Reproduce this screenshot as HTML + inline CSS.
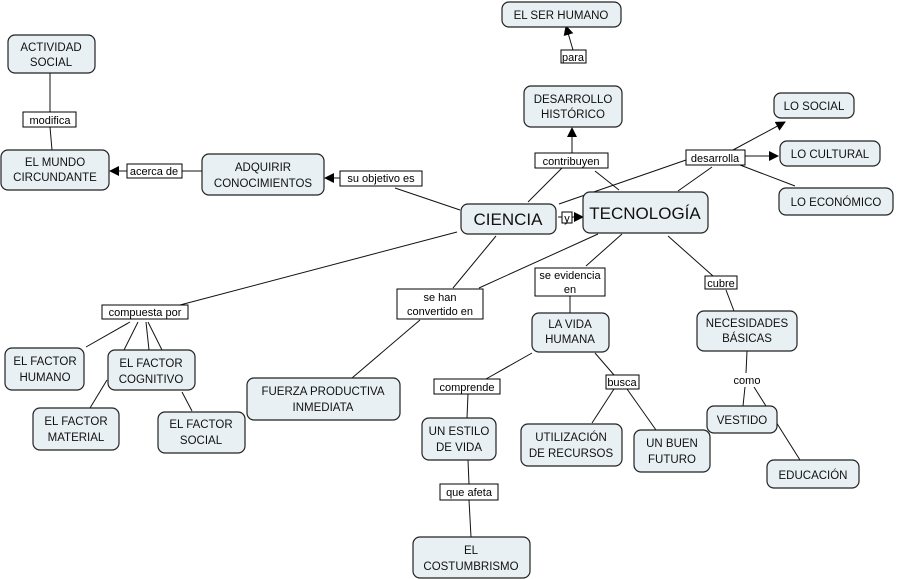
<!DOCTYPE html>
<html><head><meta charset="utf-8"><style>
html,body{margin:0;padding:0;background:#fff;}
svg{display:block;}
text{font-family:"Liberation Sans","DejaVu Sans",sans-serif;}
.n{fill:#e9f0f4;stroke:#222;stroke-width:1.2;}
.nt{font-size:11.5px;fill:#111;text-anchor:middle;}
.l{fill:#fff;stroke:#000;stroke-width:1;}
.lt{font-size:11px;fill:#000;text-anchor:middle;}
line{stroke:#111;stroke-width:1;}
</style></head><body>
<svg width="898" height="579" viewBox="0 0 898 579" xmlns="http://www.w3.org/2000/svg">
<defs><marker id="a" markerWidth="10" markerHeight="10" refX="9" refY="5" orient="auto" markerUnits="userSpaceOnUse"><path d="M0,0 L10,5 L0,10 z" fill="#000"/></marker></defs>
<!-- connectors -->
<line x1="573" y1="50" x2="566" y2="26" marker-end="url(#a)"/>
<line x1="50" y1="73" x2="50" y2="112"/>
<line x1="50" y1="127" x2="52" y2="150"/>
<line x1="202" y1="171" x2="182" y2="171"/>
<line x1="127" y1="171" x2="110" y2="171" marker-end="url(#a)"/>
<line x1="460" y1="210" x2="395" y2="188"/>
<line x1="340" y1="178" x2="325" y2="178" marker-end="url(#a)"/>
<line x1="572" y1="153" x2="572" y2="128" marker-end="url(#a)"/>
<line x1="528" y1="202" x2="562" y2="168"/>
<line x1="595" y1="171" x2="619" y2="190"/>
<line x1="559" y1="204" x2="686" y2="160"/>
<line x1="678" y1="191" x2="712" y2="167"/>
<line x1="733" y1="150" x2="785" y2="122" marker-end="url(#a)"/>
<line x1="745" y1="156" x2="778" y2="156" marker-end="url(#a)"/>
<line x1="740" y1="165" x2="795" y2="186"/>
<line x1="558" y1="217" x2="562" y2="217"/>
<line x1="572" y1="217" x2="583" y2="217" marker-end="url(#a)"/>
<line x1="457" y1="232" x2="180" y2="305"/>
<line x1="496" y1="236" x2="453" y2="288"/>
<line x1="598" y1="234" x2="479" y2="288"/>
<line x1="622" y1="234" x2="586" y2="266"/>
<line x1="668" y1="236" x2="713" y2="276"/>
<line x1="726" y1="290" x2="734" y2="311"/>
<line x1="130" y1="322" x2="86" y2="347"/>
<line x1="138" y1="322" x2="124" y2="350"/>
<line x1="146" y1="322" x2="149" y2="350"/>
<line x1="148" y1="322" x2="162" y2="350"/>
<line x1="107" y1="380" x2="90" y2="408"/>
<line x1="182" y1="392" x2="192" y2="411"/>
<line x1="420" y1="320" x2="352" y2="378"/>
<line x1="570" y1="296" x2="570" y2="313"/>
<line x1="532" y1="353" x2="486" y2="379"/>
<line x1="595" y1="353" x2="614" y2="375"/>
<line x1="468" y1="394" x2="467" y2="418"/>
<line x1="614" y1="389" x2="592" y2="423"/>
<line x1="627" y1="389" x2="656" y2="430"/>
<line x1="747" y1="351" x2="746" y2="373"/>
<line x1="745" y1="387" x2="743" y2="406"/>
<line x1="754" y1="387" x2="800" y2="460"/>
<line x1="468" y1="460" x2="469" y2="484"/>
<line x1="469" y1="500" x2="471" y2="537"/>
<!-- nodes -->
<rect class="n" x="502" y="2" width="119" height="25" rx="7"/><text class="nt" x="561" y="19">EL SER HUMANO</text>
<rect class="n" x="8" y="35" width="87" height="38" rx="7"/><text class="nt" x="51" y="51">ACTIVIDAD</text><text class="nt" x="51" y="66">SOCIAL</text>
<rect class="n" x="524" y="86" width="98" height="41" rx="7"/><text class="nt" x="573" y="103">DESARROLLO</text><text class="nt" x="573" y="118">HISTÓRICO</text>
<rect class="n" x="774" y="93" width="80" height="25" rx="7"/><text class="nt" x="814" y="110">LO SOCIAL</text>
<rect class="n" x="780" y="141" width="100" height="25" rx="7"/><text class="nt" x="830" y="158">LO CULTURAL</text>
<rect class="n" x="779" y="188" width="114" height="27" rx="7"/><text class="nt" x="836" y="206">LO ECONÓMICO</text>
<rect class="n" x="1" y="150" width="108" height="40" rx="7"/><text class="nt" x="55" y="166">EL MUNDO</text><text class="nt" x="55" y="181">CIRCUNDANTE</text>
<rect class="n" x="202" y="154" width="122" height="41" rx="7"/><text class="nt" x="263" y="171">ADQUIRIR</text><text class="nt" x="263" y="187">CONOCIMIENTOS</text>
<rect class="n" x="461" y="204" width="95" height="30" rx="7"/><text class="nt" x="508" y="225" style="font-size:17px">CIENCIA</text>
<rect class="n" x="583" y="192" width="125" height="41" rx="7"/><text class="nt" x="645" y="219" style="font-size:17px">TECNOLOGÍA</text>
<rect class="n" x="532" y="313" width="77" height="39" rx="7"/><text class="nt" x="570" y="328">LA VIDA</text><text class="nt" x="570" y="343">HUMANA</text>
<rect class="n" x="697" y="311" width="100" height="40" rx="7"/><text class="nt" x="747" y="327">NECESIDADES</text><text class="nt" x="747" y="342">BÁSICAS</text>
<rect class="n" x="5" y="348" width="79" height="42" rx="7"/><text class="nt" x="45" y="365">EL FACTOR</text><text class="nt" x="45" y="381">HUMANO</text>
<rect class="n" x="108" y="350" width="87" height="40" rx="7"/><text class="nt" x="151" y="367">EL FACTOR</text><text class="nt" x="151" y="383">COGNITIVO</text>
<rect class="n" x="247" y="378" width="153" height="42" rx="7"/><text class="nt" x="323" y="395">FUERZA PRODUCTIVA</text><text class="nt" x="323" y="411">INMEDIATA</text>
<rect class="n" x="33" y="408" width="86" height="42" rx="7"/><text class="nt" x="76" y="425">EL FACTOR</text><text class="nt" x="76" y="441">MATERIAL</text>
<rect class="n" x="158" y="412" width="87" height="41" rx="7"/><text class="nt" x="201" y="428">EL FACTOR</text><text class="nt" x="201" y="444">SOCIAL</text>
<rect class="n" x="422" y="418" width="74" height="42" rx="7"/><text class="nt" x="459" y="435">UN ESTILO</text><text class="nt" x="459" y="451">DE VIDA</text>
<rect class="n" x="521" y="424" width="101" height="42" rx="7"/><text class="nt" x="571" y="441">UTILIZACIÓN</text><text class="nt" x="571" y="457">DE RECURSOS</text>
<rect class="n" x="634" y="430" width="76" height="42" rx="7"/><text class="nt" x="672" y="447">UN BUEN</text><text class="nt" x="672" y="463">FUTURO</text>
<rect class="n" x="707" y="406" width="70" height="27" rx="7"/><text class="nt" x="742" y="424">VESTIDO</text>
<rect class="n" x="767" y="460" width="92" height="28" rx="7"/><text class="nt" x="813" y="479">EDUCACIÓN</text>
<rect class="n" x="413" y="537" width="117" height="41" rx="7"/><text class="nt" x="471" y="554">EL</text><text class="nt" x="471" y="570">COSTUMBRISMO</text>
<!-- labels -->
<rect class="l" x="561" y="50" width="25" height="13"/><text class="lt" x="573" y="61">para</text>
<rect class="l" x="23" y="112" width="53" height="15"/><text class="lt" x="50" y="124">modifica</text>
<rect class="l" x="127" y="164" width="55" height="14"/><text class="lt" x="154" y="175">acerca de</text>
<rect class="l" x="340" y="171" width="82" height="15"/><text class="lt" x="381" y="182">su objetivo es</text>
<rect class="l" x="535" y="153" width="73" height="15"/><text class="lt" x="571" y="165">contribuyen</text>
<rect class="l" x="686" y="150" width="59" height="15"/><text class="lt" x="715" y="162">desarrolla</text>
<rect class="l" x="562" y="212" width="10" height="11"/><text class="lt" x="567" y="222">y</text>
<rect class="l" x="102" y="305" width="86" height="14"/><text class="lt" x="145" y="316">compuesta por</text>
<rect class="l" x="397" y="289" width="86" height="30"/><text class="lt" x="440" y="301">se han</text><text class="lt" x="440" y="315">convertido en</text>
<rect class="l" x="535" y="268" width="70" height="28"/><text class="lt" x="570" y="279">se evidencia</text><text class="lt" x="570" y="293">en</text>
<rect class="l" x="705" y="276" width="32" height="13"/><text class="lt" x="721" y="287">cubre</text>
<rect class="l" x="434" y="379" width="66" height="15"/><text class="lt" x="467" y="391">comprende</text>
<rect class="l" x="606" y="375" width="33" height="14"/><text class="lt" x="622" y="386">busca</text>
<text class="lt" x="747" y="384">como</text>
<rect class="l" x="440" y="484" width="58" height="16"/><text class="lt" x="469" y="496">que afeta</text>
</svg>
</body></html>
